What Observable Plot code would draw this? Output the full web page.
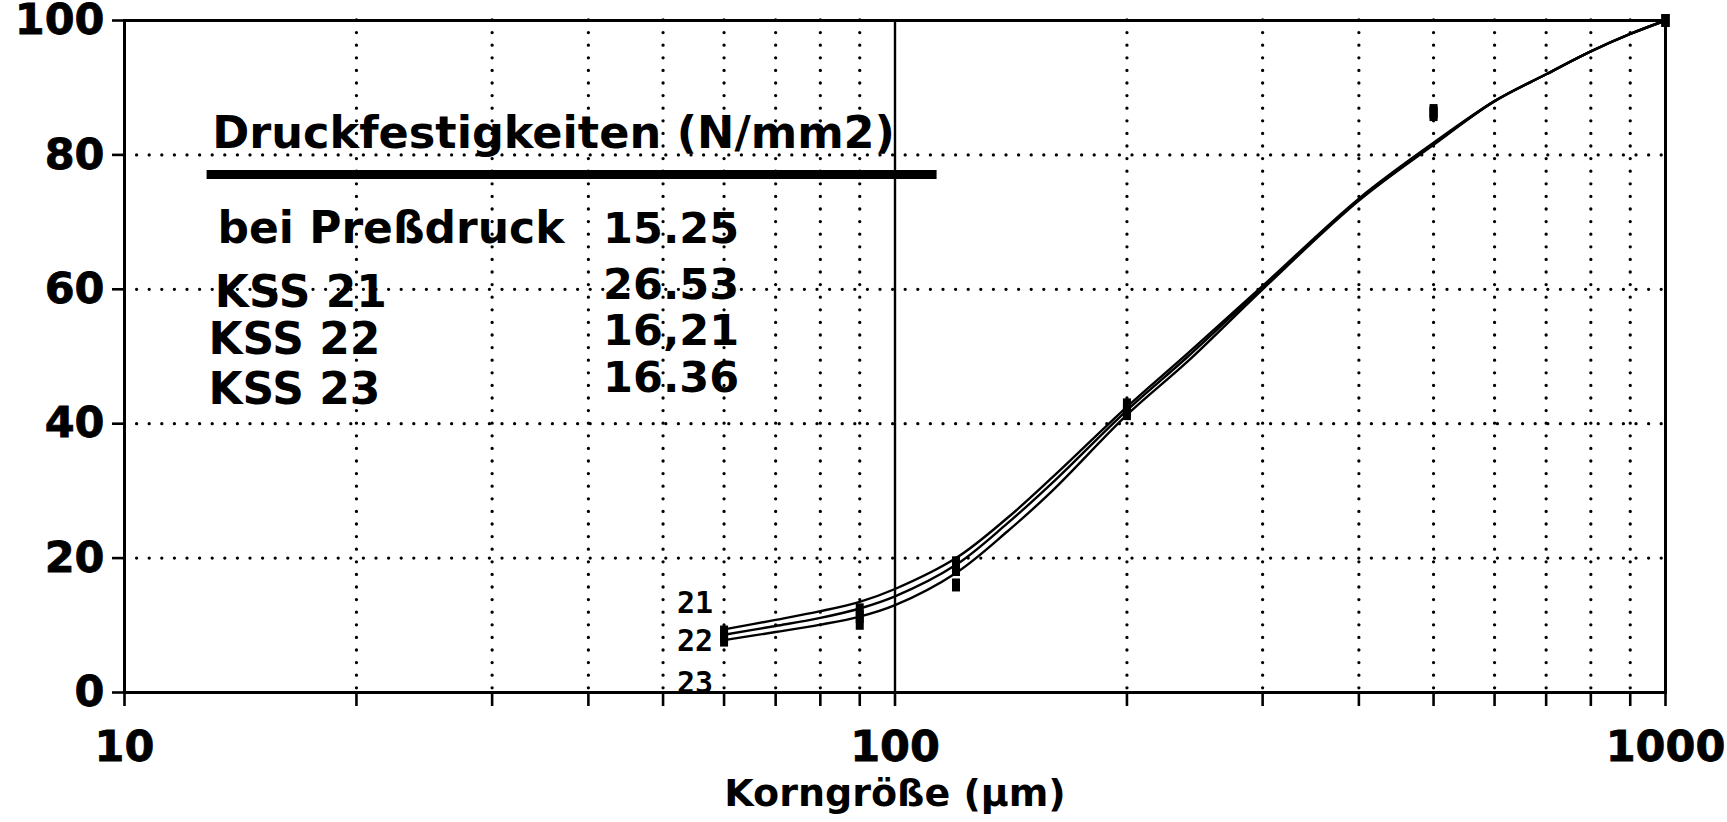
<!DOCTYPE html>
<html>
<head>
<meta charset="utf-8">
<script src="https://cdn.jsdelivr.net/npm/d3@7"></script>
<script src="https://cdn.jsdelivr.net/npm/@observablehq/plot@0.6"></script>
<style>
  html, body { margin: 0; padding: 0; background: #fff; }
  #chart svg { display: block; }
</style>
</head>
<body>
<div id="chart"></div>
<script>
// ---------- data ----------
const curveSizes = [60, 70, 80, 90, 100, 120, 140, 160, 200, 240, 300, 400, 500, 600, 700, 800, 900, 1000];
const curveKSS21 = [9.4, 10.8, 12.1, 13.5, 15.4, 20.0, 26.0, 32.0, 42.5, 50.5, 60.5, 73.5, 81.8, 88.0, 92.0, 95.4, 98.0, 100];
const curveKSS22 = [8.6, 9.9, 11.1, 12.5, 14.3, 19.0, 25.2, 31.2, 42.0, 50.0, 60.3, 73.3, 81.6, 88.0, 92.0, 95.4, 98.0, 100];
const curveKSS23 = [7.8, 9.0, 10.1, 11.3, 13.0, 17.8, 24.0, 30.0, 41.3, 49.3, 60.0, 73.2, 81.5, 88.0, 92.0, 95.4, 98.0, 100];

const sieveSizes = [60, 90, 120, 200, 500, 1000];
const measKSS21 = [9.0, 12.3, 19.3, 42.8, 86.6, 100];
const measKSS22 = [8.4, 11.3, 18.3, 42.1, 86.3, 100];
const measKSS23 = [7.8, 10.3, 16.0, 41.5, 86.0, 100];

const seriesNames = ["21", "22", "23"];

const tableTitle = "Druckfestigkeiten (N/mm2)";
const rowLabels = ["bei Preßdruck", "KSS 21", "KSS 22", "KSS 23"];
const rowValues = ["15.25", "26.53", "16,21", "16.36"];

const xLabel = "Korngröße (µm)";
const yTicks = [0, 20, 40, 60, 80, 100];
const xLabeledTicks = [10, 100, 1000];
const xMinorTicks = [20, 30, 40, 50, 60, 70, 80, 90, 200, 300, 400, 500, 600, 700, 800, 900];
const yGridValues = [20, 40, 60, 80];

// ---------- annotation anchors (data units) ----------
const titleAnchor = {x: 13.0, y: 83.2};
const underline = {x1: 12.8, x2: 113.4, y: 77.1};
const labelColX = [13.2, 13.1, 12.85, 12.85];
const labelRowY = [69.0, 59.4, 52.5, 45.0];
const valueColX = 41.8;
const valueRowY = [69.0, 60.6, 53.8, 46.7];
const seriesLabelX = 55;
const seriesLabelY = [13.2, 7.6, 1.4];

// ---------- tables ----------
const curveSeries = [curveKSS21, curveKSS22, curveKSS23];
const curves = curveSeries.flatMap((vals, i) =>
  vals.map((v, j) => ({size: curveSizes[j], pct: v, series: seriesNames[i]})));
const measSeries = [measKSS21, measKSS22, measKSS23];
const points = measSeries.flatMap((vals, i) =>
  vals.map((v, j) => ({size: sieveSizes[j], pct: v, series: seriesNames[i]})));
const rows = rowLabels.map((l, i) => ({label: l, value: rowValues[i], x: labelColX[i], y: labelRowY[i], vy: valueRowY[i]}));
const sLabels = seriesNames.map((s, i) => ({s, y: seriesLabelY[i]}));

const barSymbol = {
  draw(context) {
    context.moveTo(-4, -6.5);
    context.lineTo(4, -6.5);
    context.lineTo(4, 6.5);
    context.lineTo(-4, 6.5);
    context.closePath();
  }
};

const dotted = {stroke: "black", strokeWidth: 3.3, strokeDasharray: "0 12.6", strokeLinecap: "round"};
const allXTicks = [...xLabeledTicks, ...xMinorTicks].sort((a, b) => a - b);

const chart = Plot.plot({
  width: 1727,
  height: 822,
  marginLeft: 124,
  marginRight: 62,
  marginTop: 20,
  marginBottom: 130,
  style: {fontFamily: "DejaVu Sans", fontSize: "43px", fontWeight: "bold", color: "black", background: "white", overflow: "visible"},
  x: {type: "log", domain: [10, 1000], ticks: allXTicks,
      tickFormat: d => xLabeledTicks.includes(d) ? String(d) : "",
      tickSize: 14, tickPadding: 24, label: null},
  y: {domain: [0, 100], ticks: yTicks, tickFormat: d => String(d), tickSize: 12, tickPadding: 8, label: null},
  marks: [
    Plot.ruleY(yGridValues, dotted),
    Plot.ruleX(xMinorTicks, dotted),
    Plot.ruleX([100], {stroke: "black", strokeWidth: 2.4}),
    Plot.frame({stroke: "black", strokeWidth: 3}),
    Plot.line(curves, {x: "size", y: "pct", z: "series", curve: "catmull-rom", stroke: "black", strokeWidth: 2.4}),
    Plot.dot(points, {x: "size", y: "pct", symbol: barSymbol, fill: "black", stroke: null, r: 5}),
    Plot.text(sLabels, {x: () => seriesLabelX, y: "y", text: "s", fontFamily: "DejaVu Sans Mono", fontWeight: "bold", fontSize: 30}),
    Plot.text([tableTitle], {x: () => titleAnchor.x, y: () => titleAnchor.y, textAnchor: "start", fontSize: 44.6}),
    Plot.ruleY([underline.y], {x1: underline.x1, x2: underline.x2, stroke: "black", strokeWidth: 9}),
    Plot.text(rows, {x: "x", y: "y", text: "label", textAnchor: "start", fontSize: 44}),
    Plot.text(rows, {x: () => valueColX, y: "vy", text: "value", textAnchor: "start", fontSize: 43}),
    Plot.text([xLabel], {frameAnchor: "bottom", lineAnchor: "middle", dy: 101, fontSize: 38})
  ]
});

const svg = d3.select(chart.tagName.toLowerCase() === "svg" ? chart : chart.querySelector("svg"));
svg.selectAll('[aria-label^="x-axis"] path, [aria-label^="x-axis"] line, [aria-label^="y-axis"] path, [aria-label^="y-axis"] line')
  .attr("stroke-width", 2.6).attr("stroke", "black");
svg.selectAll('[aria-label^="x-axis"] text, [aria-label^="y-axis"] text')
  .attr("stroke", "black").attr("stroke-width", 0.8);

document.getElementById("chart").appendChild(chart);
</script>
</body>
</html>
